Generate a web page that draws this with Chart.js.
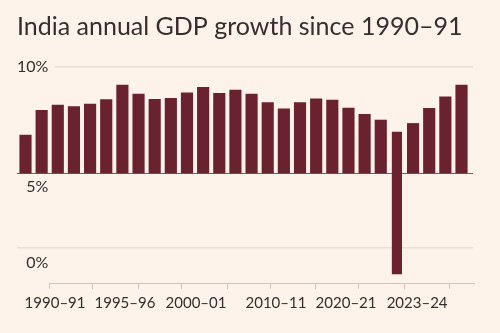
<!DOCTYPE html>
<html>
<head>
<meta charset="utf-8">
<script src="https://cdn.jsdelivr.net/npm/chart.js@4"></script>
<style>
  body { margin: 0; background: #fdf3ea; }
  #wrap { width: 500px; height: 333px; }
</style>
</head>
<body>
<div id="wrap"><canvas id="gdpChart"></canvas></div>
<script>
const years = [
  '1997–98', '1998–99', '1999–00', '2000–01', '2001–02', '2002–03', '2003–04',
  '2004–05', '2005–06', '2006–07', '2007–08', '2008–09', '2009–10', '2010–11',
  '2011–12', '2012–13', '2013–14', '2014–15', '2015–16', '2016–17', '2017–18',
  '2018–19', '2019–20', '2020–21', '2021–22', '2022–23', '2023–24', '2024–25'
];
const growth = [
  6.79, 7.96, 8.21, 8.13, 8.25, 8.46, 9.15, 8.73, 8.48, 8.52, 8.79, 9.04, 8.76, 8.92,
  8.73, 8.33, 8.03, 8.32, 8.50, 8.44, 8.07, 7.77, 7.50, 6.93, 7.34, 8.05, 8.60, 9.15
];
const baseValue = 5;
const dropYear = '2020–21';
const dropLow = 0.24;

// horizontal rules and the y labels that sit beside them
const gridValues = [10, 5, 1.46];
const yTickValues = [10, 4.34, 0.78];
const yTickLabels = ['10%', '5%', '0%'];

// x axis tick marks and labels, in bar-index units
const xTickMarks = [1.46, 4.18, 6.97, 9.69, 12.48, 15.20, 17.93, 20.65, 23.44, 26.23];
const xLabelValues = [1.83, 6.16, 10.56, 15.51, 19.85, 24.25];
const xLabels = ['1990–91', '1995–96', '2000–01', '2010–11', '2020–21', '2023–24'];

const bg = '#fdf3ea';
const barColor = '#6a2230';
const textColor = '#3b2b2e';

const dropIndex = years.indexOf(dropYear);
const mainBars = years
  .map((y, i) => ({ x: i, y: [baseValue, growth[i]] }))
  .filter((d) => d.x !== dropIndex);
const dropBar = [{ x: dropIndex, y: [dropLow, growth[dropIndex]] }];

// x axis line runs from the first tick mark to the right edge
const axisLine = {
  id: 'axisLine',
  beforeDatasetsDraw(chart) {
    const { ctx, chartArea, scales } = chart;
    const start = scales.x.getPixelForValue(xTickMarks[0]);
    ctx.save();
    ctx.strokeStyle = '#cfc5bc';
    ctx.lineWidth = 1;
    ctx.beginPath();
    ctx.moveTo(start, chartArea.bottom + 0.5);
    ctx.lineTo(chartArea.right + 2, chartArea.bottom + 0.5);
    ctx.stroke();
    ctx.restore();
  }
};

new Chart(document.getElementById('gdpChart'), {
  type: 'bar',
  data: {
    datasets: [
      { data: mainBars, backgroundColor: barColor, barThickness: 11.5, grouped: false },
      { data: dropBar, backgroundColor: barColor, barThickness: 9.5, grouped: false }
    ]
  },
  options: {
    responsive: true,
    maintainAspectRatio: false,
    animation: false,
    layout: { padding: { left: 17, right: 27, top: 0, bottom: 21 } },
    plugins: {
      legend: { display: false },
      tooltip: { enabled: false },
      title: {
        display: true,
        text: 'India annual GDP growth since 1990–91',
        align: 'start',
        color: textColor,
        font: { family: 'Lato', size: 25, weight: 'normal' },
        padding: { top: 12, bottom: 6 }
      }
    },
    scales: {
      x: {
        type: 'linear',
        offset: false,
        min: -0.526,
        max: 27.712,
        border: { display: false },
        grid: {
          offset: false,
          drawOnChartArea: false,
          tickLength: 6,
          tickColor: (ctx) => (ctx.tick && ctx.tick.name ? 'rgba(0,0,0,0)' : '#cfc5bc')
        },
        afterBuildTicks: (scale) => {
          scale.ticks = xTickMarks.map((v) => ({ value: v }))
            .concat(xLabelValues.map((v, i) => ({ value: v, name: xLabels[i] })));
        },
        afterFit: (scale) => { scale.height = 29; },
        ticks: {
          autoSkip: false,
          maxRotation: 0,
          padding: 5,
          color: textColor,
          font: { family: 'Lato', size: 15 },
          callback: (v, i, ticks) => ticks[i].name || ''
        }
      },
      y: {
        min: -0.19,
        max: 10.9,
        border: { display: false },
        ticks: { display: false },
        afterBuildTicks: (scale) => {
          scale.ticks = gridValues.map((v) => ({ value: v }));
        },
        afterFit: (scale) => { scale.width = 0; },
        grid: {
          drawTicks: false,
          color: (ctx) => (ctx.tick && ctx.tick.value === baseValue ? '#6b6561' : '#e8ded4'),
          lineWidth: (ctx) => (ctx.tick && ctx.tick.value === baseValue ? 1 : 1.5)
        }
      },
      yl: {
        position: 'left',
        min: -0.19,
        max: 10.9,
        border: { display: false },
        grid: { display: false },
        afterBuildTicks: (scale) => {
          scale.ticks = yTickValues.map((v) => ({ value: v }));
        },
        afterFit: (scale) => { scale.width = 0; },
        ticks: {
          mirror: true,
          crossAlign: 'far',
          padding: 0,
          z: 1,
          color: textColor,
          font: { family: 'Lato', size: 16 },
          showLabelBackdrop: true,
          backdropColor: bg,
          backdropPadding: { top: 1, bottom: 1, left: 2, right: 6 },
          callback: (v, i) => yTickLabels[i]
        }
      }
    }
  },
  plugins: [axisLine]
});
</script>
</body>
</html>
